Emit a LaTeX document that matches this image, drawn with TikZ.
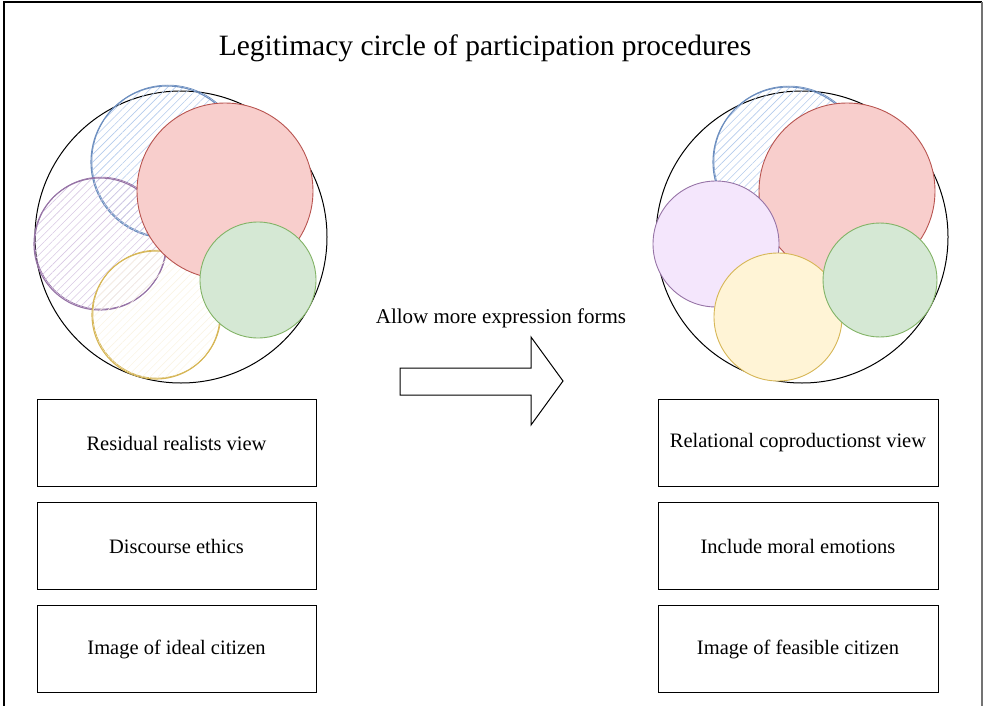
\documentclass[tikz,border=0pt]{standalone}
\usepackage{fontspec}
\setmainfont{Liberation Serif}
\usepackage{xcolor}
\usepackage{tikz}
\usetikzlibrary{
    shapes,
    positioning,
    patterns.meta,
    calc
}
\definecolor{blueline}{HTML}{6C8EBF}
\definecolor{bluehatch}{HTML}{B4CBEC}
\definecolor{purpleline}{HTML}{9673A6}
\definecolor{purplehatch}{HTML}{D8C8E3}
\definecolor{purplefill}{HTML}{F4E6FC}
\definecolor{yellowline}{HTML}{D6B656}
\definecolor{yellowhatch}{HTML}{FAF4E4}
\definecolor{yellowfill}{HTML}{FFF4D6}
\definecolor{redline}{HTML}{B85450}
\definecolor{redfill}{HTML}{F8CECC}
\definecolor{greenline}{HTML}{82B366}
\definecolor{greenfill}{HTML}{D5E8D4}
\tikzset{
  ring/.style = {
      draw,
      circle,
      inner sep=0pt,
      line width=1pt
  },
  blob/.style = {
      circle,
      inner sep=0pt,
      line width=0.9pt
  },
  sketch/.style = {
      blob,
      line width=1.1pt,
      preaction={draw=#1, line width=0.7pt,
        transform canvas={shift={(0.9pt,0.9pt)}}},
      draw=#1
  },
  hatch/.style = {
      pattern={Lines[angle=45, distance=5.5pt, line width=0.6pt]},
      pattern color=#1
  },
  box/.style = {
      draw,
      rectangle,
      line width=1pt,
      minimum width=279pt,
      minimum height=87pt,
      font=\fontsize{20.5}{24}\selectfont,
      align=center
  },
  title/.style = {
      font=\fontsize{29.5}{34}\selectfont
  },
  caption/.style = {
      font=\fontsize{21}{25}\selectfont
  }
}

\begin{document}
\begin{tikzpicture}[x=1pt, y=-1pt]
        \useasboundingbox (0,0) rectangle (987,706);
        % Frame
        \draw[line width=1.5pt] (4,706) -- (4,2) -- (982,2);
        \draw[line width=1.2pt, black!55] (982,2) -- (982,706);
        \node[title] (heading) at (485,48) {Legitimacy circle of participation procedures};
        % Left circle
        \node[ring, minimum size=292pt] (lring) at (181,237) {};
        \node[sketch=blueline, hatch=bluehatch, minimum size=152pt] (lblue) at (167,162) {};
        \node[sketch=purpleline, hatch=purplehatch, minimum size=132pt] (lpurple) at (100,244) {};
        \node[sketch=yellowline, hatch=yellowhatch, minimum size=128pt] (lyellow) at (156,315) {};
        \node[blob, draw=redline, fill=redfill, minimum size=176pt] (lred) at (225,191) {};
        \node[blob, draw=greenline, fill=greenfill, minimum size=116pt] (lgreen) at (258,280) {};
        % Right circle
        \node[ring, minimum size=292pt] (rring) at (802,237) {};
        \node[sketch=blueline, hatch=bluehatch, minimum size=150pt] (rblue) at (788,162) {};
        \node[blob, draw=redline, fill=redfill, minimum size=176pt] (rred) at (847,191) {};
        \node[blob, draw=purpleline, fill=purplefill, minimum size=126pt] (rpurple) at (716,244) {};
        \node[blob, draw=yellowline, fill=yellowfill, minimum size=128pt] (ryellow) at (778,317) {};
        \node[blob, draw=greenline, fill=greenfill, minimum size=114pt] (rgreen) at (880,280) {};
        % Boxes
        \node[box] (lview) at (176.5,443) {Residual realists view};
        \node[box, below=15pt of lview] (lethics) {Discourse ethics};
        \node[box, below=15pt of lethics] (lcitizen) {Image of ideal citizen};
        \node[box, minimum width=280pt] (rview) at (798,443) {Relational coproductionst view};
        \node[box, minimum width=280pt, below=15pt of rview] (rethics) {Include moral emotions};
        \node[box, minimum width=280pt, below=15pt of rethics] (rcitizen) {Image of feasible citizen};
        % Arrow
        \node[caption] (shift) at (501,318) {Allow more expression forms};
        \draw[line width=1pt, line join=miter]
        (400,368) -- (531,368) -- (531,337) -- (563,381)
        -- (531,425) -- (531,395) -- (400,395) -- cycle;
    \end{tikzpicture}
\end{document}
